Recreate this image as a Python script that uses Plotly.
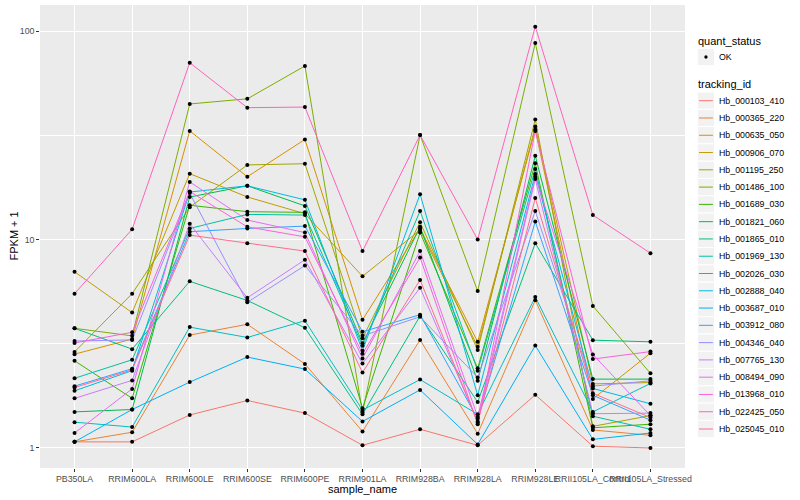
import plotly.graph_objects as go

samples = ["PB350LA", "RRIM600LA", "RRIM600LE", "RRIM600SE", "RRIM600PE",
           "RRIM901LA", "RRIM928BA", "RRIM928LA", "RRIM928LE",
           "RRII105LA_Control", "RRII105LA_Stressed"]

tracking_ids = ["Hb_000103_410", "Hb_000365_220", "Hb_000635_050", "Hb_000906_070",
                "Hb_001195_250", "Hb_001486_100", "Hb_001689_030", "Hb_001821_060",
                "Hb_001865_010", "Hb_001969_130", "Hb_002026_030", "Hb_002888_040",
                "Hb_003687_010", "Hb_003912_080", "Hb_004346_040", "Hb_007765_130",
                "Hb_008494_090", "Hb_013968_010", "Hb_022425_050", "Hb_025045_010"]

colors = ["#F8766D", "#EA8331", "#D89000", "#C09B00", "#A3A500", "#7CAE00", "#39B600",
          "#00BB4E", "#00BF7D", "#00C1A3", "#00BFC4", "#00BAE0", "#00B0F6", "#35A2FF",
          "#9590FF", "#C77CFF", "#E76BF3", "#FA62DB", "#FF62BC", "#FF6C91"]

fpkm_000103_410 = [1.07, 1.07, 1.44, 1.69, 1.47, 1.03, 1.23, 1.03, 1.80, 1.02, 1.00]
fpkm_000365_220 = [1.07, 1.19, 3.48, 3.92, 2.53, 1.20, 3.30, 1.17, 5.12, 1.22, 1.15]
fpkm_000635_050 = [2.82, 3.33, 33.2, 20.0, 30.2, 4.12, 11.3, 3.23, 33.7, 1.72, 2.85]
fpkm_000906_070 = [7.0, 4.46, 20.7, 16.0, 13.3, 6.66, 11.1, 3.06, 34.8, 2.03, 2.06]
fpkm_001195_250 = [2.89, 5.5, 14.3, 22.8, 23.1, 3.36, 12.1, 2.95, 37.7, 1.27, 1.43]
fpkm_001486_100 = [3.75, 3.45, 44.7, 47.3, 68.0, 1.48, 31.7, 5.66, 87.6, 4.8, 2.28]
fpkm_001689_030 = [2.62, 1.73, 14.6, 13.6, 13.5, 1.55, 10.8, 2.41, 23.2, 1.25, 1.30]
fpkm_001821_060 = [1.49, 1.53, 16.0, 18.1, 14.5, 3.18, 11.5, 2.10, 25.2, 2.14, 2.14]
fpkm_001865_010 = [3.75, 2.98, 6.3, 5.1, 3.77, 1.45, 4.30, 1.66, 9.6, 3.29, 3.23]
fpkm_001969_130 = [2.16, 2.65, 11.3, 13.2, 13.1, 3.09, 13.7, 2.35, 21.8, 1.42, 1.23]
fpkm_002026_030 = [1.33, 1.26, 3.80, 3.39, 4.08, 1.52, 2.13, 1.45, 5.30, 1.49, 2.04]
fpkm_002888_040 = [1.88, 2.35, 16.9, 18.1, 15.5, 2.93, 16.5, 1.79, 20.6, 1.93, 1.63]
fpkm_003687_010 = [1.07, 1.53, 2.07, 2.73, 2.39, 1.34, 1.90, 1.04, 3.10, 1.10, 1.18]
fpkm_003912_080 = [1.98, 2.40, 10.9, 11.3, 11.6, 3.61, 4.36, 1.38, 12.2, 1.79, 1.36]
fpkm_004346_040 = [3.26, 3.30, 16.7, 5.0, 7.5, 3.45, 4.26, 2.18, 13.7, 1.98, 2.10]
fpkm_007765_130 = [1.73, 2.11, 11.9, 5.25, 8.0, 2.54, 5.87, 1.34, 19.5, 1.46, 1.47]
fpkm_008494_090 = [1.18, 1.92, 18.9, 12.4, 10.8, 2.69, 8.8, 1.41, 20.0, 2.81, 1.43]
fpkm_013968_010 = [3.19, 3.59, 17.0, 11.5, 10.3, 2.83, 8.2, 1.30, 33.2, 2.67, 2.90]
fpkm_022425_050 = [5.5, 11.2, 70.5, 42.9, 43.2, 8.8, 31.7, 10.0, 105.0, 13.1, 8.6]
fpkm_025045_010 = [1.95, 2.37, 10.5, 9.6, 8.8, 2.30, 6.4, 1.32, 15.8, 1.83, 1.40]

series = [fpkm_000103_410, fpkm_000365_220, fpkm_000635_050, fpkm_000906_070,
          fpkm_001195_250, fpkm_001486_100, fpkm_001689_030, fpkm_001821_060,
          fpkm_001865_010, fpkm_001969_130, fpkm_002026_030, fpkm_002888_040,
          fpkm_003687_010, fpkm_003912_080, fpkm_004346_040, fpkm_007765_130,
          fpkm_008494_090, fpkm_013968_010, fpkm_022425_050, fpkm_025045_010]

FONT = "Liberation Sans, Arial, sans-serif"
W, H = 800, 500
ML, MR, MT, MB = 40, 115, 5, 32
PW, PH = W - ML - MR, H - MT - MB


def px(xp):
    return (xp - ML) / PW


def py(yp):
    return (H - MB - yp) / PH


fig = go.Figure()
for tid, vals, col in zip(tracking_ids, series, colors):
    fig.add_trace(go.Scatter(
        x=samples, y=vals, mode="lines", name=tid,
        line=dict(color=col, width=1), showlegend=False,
    ))

all_x = [s for vals in series for s in samples]
all_y = [v for vals in series for v in vals]
fig.add_trace(go.Scatter(
    x=all_x, y=all_y, mode="markers", name="OK",
    marker=dict(color="black", size=4), showlegend=False,
))

# ---- manual ggplot-style legend ----
shapes = []
annotations = []
KEY_X0, KEY_X1 = 697.3, 714.6
KEY_H = 17.28
TEXT_X = 716.8

annotations.append(dict(xref="paper", yref="paper", x=px(696), y=py(40.7),
                        text="quant_status", showarrow=False, xanchor="left",
                        yanchor="middle", font=dict(size=11, color="black", family=FONT)))
ok_c = 57.0
shapes.append(dict(type="rect", xref="paper", yref="paper",
                   x0=px(KEY_X0), x1=px(KEY_X1), y0=py(ok_c - KEY_H / 2), y1=py(ok_c + KEY_H / 2),
                   fillcolor="#F2F2F2", line=dict(color="white", width=1), layer="above"))
shapes.append(dict(type="circle", xref="paper", yref="paper",
                   x0=px(704.3), x1=px(707.6), y0=py(ok_c - 1.65), y1=py(ok_c + 1.65),
                   fillcolor="black", line=dict(color="black", width=0), layer="above"))
annotations.append(dict(xref="paper", yref="paper", x=px(TEXT_X), y=py(ok_c),
                        text="OK", showarrow=False, xanchor="left", yanchor="middle",
                        font=dict(size=8.8, color="black", family=FONT)))

annotations.append(dict(xref="paper", yref="paper", x=px(696), y=py(84.3),
                        text="tracking_id", showarrow=False, xanchor="left",
                        yanchor="middle", font=dict(size=11, color="black", family=FONT)))
for i, (tid, col) in enumerate(zip(tracking_ids, colors)):
    c = 100.7 + KEY_H * i
    shapes.append(dict(type="rect", xref="paper", yref="paper",
                       x0=px(KEY_X0), x1=px(KEY_X1), y0=py(c - KEY_H / 2), y1=py(c + KEY_H / 2),
                       fillcolor="#F2F2F2", line=dict(color="white", width=1), layer="above"))
    shapes.append(dict(type="line", xref="paper", yref="paper",
                       x0=px(699.0), x1=px(712.9), y0=py(c), y1=py(c),
                       line=dict(color=col, width=1), layer="above"))
    annotations.append(dict(xref="paper", yref="paper", x=px(TEXT_X), y=py(c),
                            text=tid, showarrow=False, xanchor="left", yanchor="middle",
                            font=dict(size=8.8, color="black", family=FONT)))

# axis titles
annotations.append(dict(xref="paper", yref="paper", x=0.5, y=py(488.5),
                        text="sample_name", showarrow=False, xanchor="center", yanchor="middle",
                        font=dict(size=11, color="black", family=FONT)))
annotations.append(dict(xref="paper", yref="paper", x=px(13), y=0.5, textangle=-90,
                        text="FPKM + 1", showarrow=False, xanchor="center", yanchor="middle",
                        font=dict(size=11, color="black", family=FONT)))

fig.update_layout(
    width=W, height=H,
    margin=dict(l=ML, r=MR, t=MT, b=MB, autoexpand=False),
    paper_bgcolor="white", plot_bgcolor="#EBEBEB",
    font=dict(family=FONT, color="black"),
    showlegend=False,
    shapes=shapes, annotations=annotations,
)

fig.update_xaxes(
    type="category", categoryorder="array", categoryarray=samples,
    range=[-0.6, 10.6], showgrid=True, gridcolor="white", gridwidth=1.1,
    zeroline=False, showline=False, tickangle=0, automargin=False,
    ticks="outside", ticklen=2.75, tickcolor="#333333",
    tickfont=dict(size=8.8, color="#4D4D4D", family=FONT),
)
fig.update_yaxes(
    type="log", range=[-0.096, 2.125], automargin=False,
    tickvals=[1, 10, 100], ticktext=["1", "10", "100"],
    showgrid=True, gridcolor="white", gridwidth=1.1,
    zeroline=False, showline=False,
    ticks="outside", ticklen=2.75, tickcolor="#333333",
    tickfont=dict(size=8.8, color="#4D4D4D", family=FONT),
    minor=dict(tickvals=[3.1623, 31.623], showgrid=True, gridcolor="white", gridwidth=0.55, ticks=""),
)

fig.write_html("out.html", config={"displayModeBar": False},
               post_script="document.body.style.margin='0';")
